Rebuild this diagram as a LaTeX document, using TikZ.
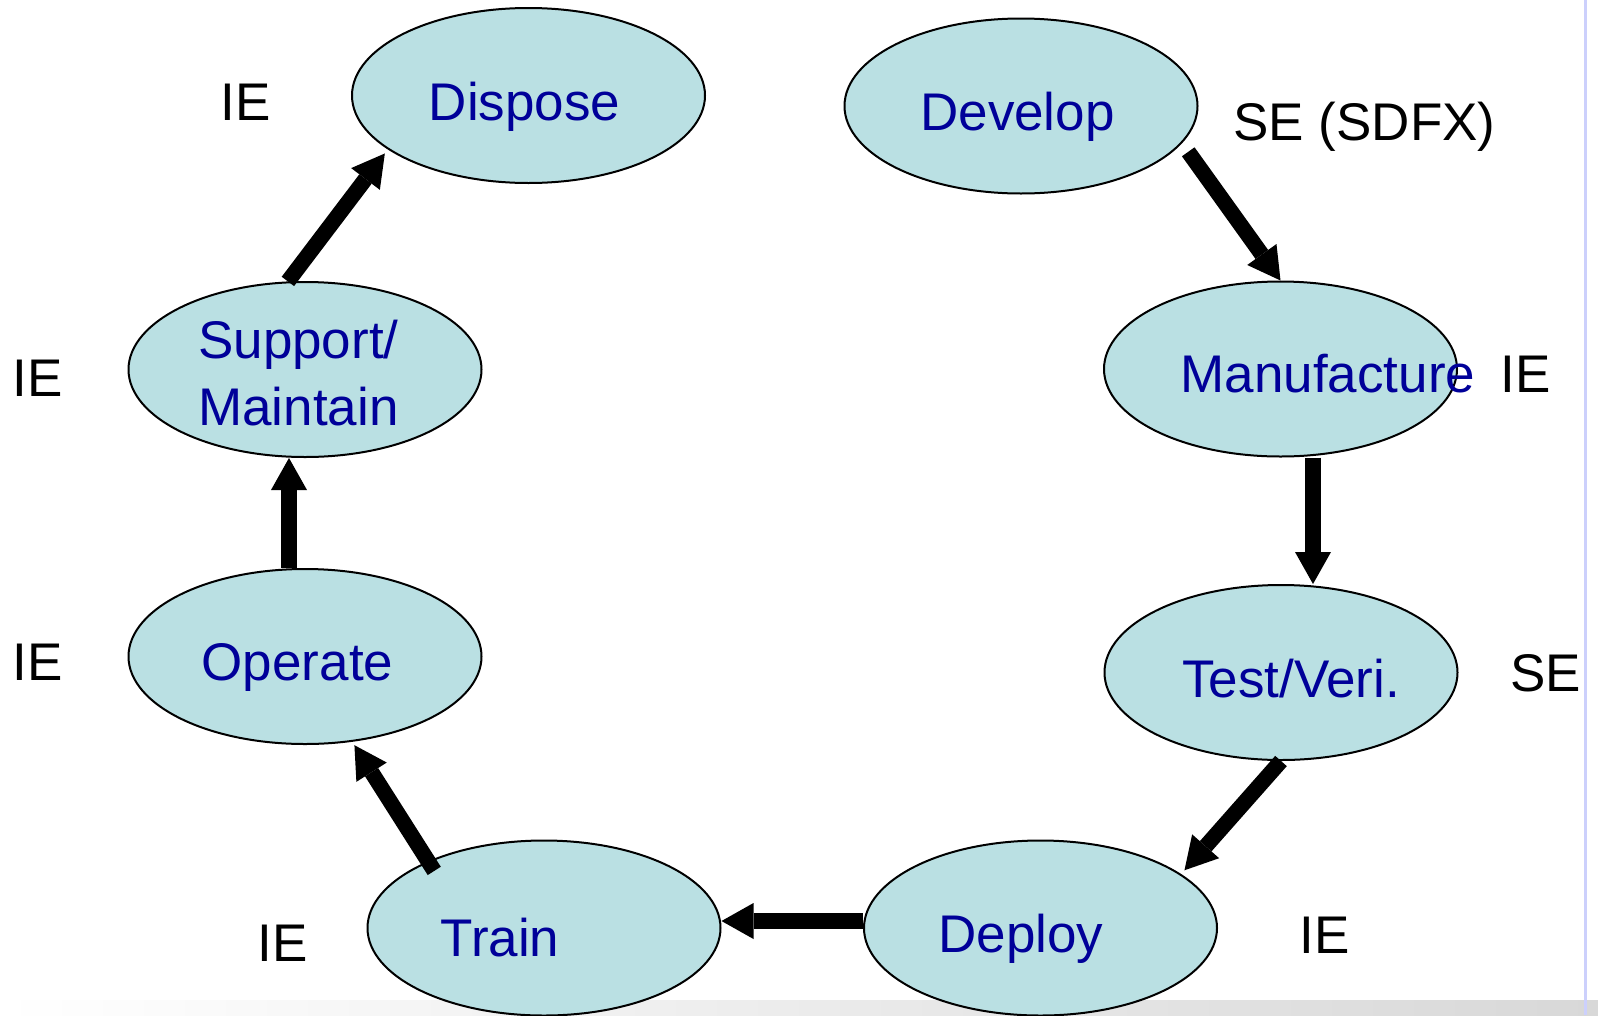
\documentclass[tikz,border=0pt]{standalone}
\usepackage{fontspec}
\setmainfont{Liberation Sans}
\usetikzlibrary{shapes.geometric,arrows.meta}
\definecolor{stagefill}{RGB}{186,224,227}
\definecolor{stagetext}{RGB}{0,0,153}
\definecolor{railblue}{RGB}{204,208,252}
\definecolor{bargray}{RGB}{216,216,216}
\tikzset{
  stage/.style={ellipse, draw=black, line width=2pt, fill=stagefill,
    minimum width=353pt, minimum height=175pt, inner sep=0pt},
  lbl/.style={font=\fontsize{53}{67}\selectfont, inner sep=0pt, anchor=base},
  stagelbl/.style={lbl, text=stagetext},
  flow/.style={line width=15.5pt,
    -{Triangle[length=32pt,width=36pt,line width=0pt]}}
}
\begin{document}
\begin{tikzpicture}[x=1pt,y=-1pt]
\useasboundingbox (0,0) rectangle (1598,1015);
\fill[white] (0,0) rectangle (1598,1015);
% status bar and side rule
\shade[left color=white, right color=bargray] (0,1000) rectangle (1598,1015);
\draw[railblue, line width=3pt] (1585.5,0) -- (1585.5,1015);

% life-cycle stages
\node[stage] (dispose) at (528.5,95.5) {};
\node[stage] (develop) at (1021,106) {};
\node[stage] (manuf)   at (1280.5,369) {};
\node[stage] (test)    at (1281,672.5) {};
\node[stage] (deploy)  at (1040.5,928) {};
\node[stage] (train)   at (544,928) {};
\node[stage] (operate) at (305,656.5) {};
\node[stage] (support) at (305,369.5) {};

% flow between stages
\draw[flow, shorten <=10.6pt] (develop.-13.5) -- (manuf.north);
\draw[flow] ([xshift=32.5pt]manuf.south) -- ([xshift=32pt]test.north);
\draw[flow, shorten >=5pt] (test.south) -- (deploy.21.3);
\draw[flow] ([yshift=7pt]deploy.west) -- ([yshift=7pt]train.east);
\draw[flow, shorten <=-11.7pt, shorten >=4pt] (train.150.6) -- (operate.-61.5);
\draw[flow] ([xshift=-16pt]operate.north) -- ([xshift=-16pt]support.south);
\draw[flow, shorten >=5pt] (support.101.4) -- (dispose.201.7);

% stage names
\node[stagelbl] (tdispose) at (524.5,120) {Dispose};
\node[stagelbl] (tdevelop) at (1017.5,130) {Develop};
\node[stagelbl] (tmanuf)   at (1328,392) {Manufacture};
\node[stagelbl] (ttest)    at (1291,697) {Test/Veri.};
\node[stagelbl] (tdeploy)  at (1021,952) {Deploy};
\node[stagelbl] (ttrain)   at (500,956) {Train};
\node[stagelbl] (toperate) at (297.5,680) {Operate};
\node[stagelbl, anchor=base west, align=left] (tsupport) at (198,425) {Support/\\Maintain};

% responsible discipline
\node[lbl] (rdispose) at (246,120) {IE};
\node[lbl] (rdevelop) at (1364.5,140) {SE (SDFX)};
\node[lbl] (rmanuf)   at (1526,392) {IE};
\node[lbl] (rtest)    at (1545.5,691) {SE};
\node[lbl] (rdeploy)  at (1325,953) {IE};
\node[lbl] (rtrain)   at (283,961) {IE};
\node[lbl] (roperate) at (38,680) {IE};
\node[lbl] (rsupport) at (38,396) {IE};
\end{tikzpicture}
\end{document}
